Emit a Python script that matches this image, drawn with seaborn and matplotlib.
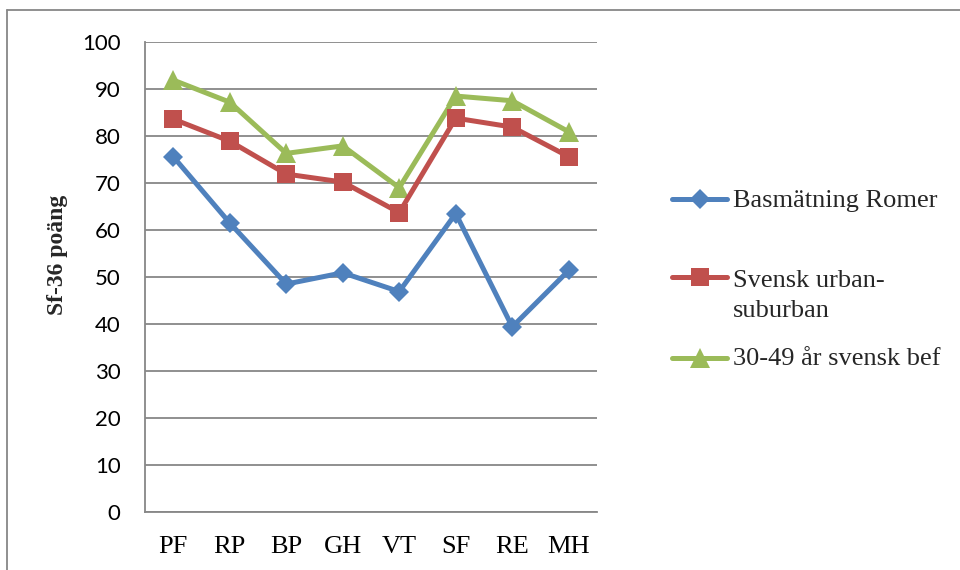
import matplotlib
matplotlib.use("Agg")
import matplotlib.pyplot as plt
from matplotlib.lines import Line2D
import seaborn as sns
import pandas as pd

# SF-36 domains and mean scores per group
domains = ["PF", "RP", "BP", "GH", "VT", "SF", "RE", "MH"]
basmatning_romer = [75.6, 61.5, 48.5, 50.9, 46.9, 63.5, 39.4, 51.4]
svensk_urban_suburban = [83.6, 78.9, 71.9, 70.2, 63.7, 83.8, 81.9, 75.6]
svensk_bef_30_49 = [91.9, 87.2, 76.3, 77.9, 69.0, 88.5, 87.5, 80.9]

series_names = ["Basmätning Romer", "Svensk urban-\nsuburban", "30-49 år svensk bef"]
series_values = [basmatning_romer, svensk_urban_suburban, svensk_bef_30_49]
colors = ["#4F81BD", "#C0504D", "#9BBB59"]
markers = ["D", "s", "^"]
msizes = [10.5, 13.5, 14.5]
zorders = [5, 4, 3]

y_ticks = [0, 10, 20, 30, 40, 50, 60, 70, 80, 90, 100]

df = pd.DataFrame(
    [(name, d, v) for name, vals in zip(series_names, series_values)
     for d, v in zip(domains, vals)],
    columns=["serie", "domän", "poäng"],
)

sns.set_style("white")
plt.rcParams["font.family"] = ["Liberation Serif", "DejaVu Serif"]

W, H = 960, 570
fig = plt.figure(figsize=(W / 100, H / 100), dpi=100)
ax = fig.add_axes([145 / W, 1 - 512 / H, (597 - 145) / W, (512 - 42) / H])

for name, col, mk, ms, zo in zip(series_names, colors, markers, msizes, zorders):
    sns.lineplot(
        data=df[df["serie"] == name], x="domän", y="poäng",
        color=col, marker=mk, markersize=ms, markeredgewidth=0,
        linewidth=3.6, ax=ax, zorder=zo, legend=False,
    )

grey = "#878787"
ax.set_xlim(-0.5, len(domains) - 0.5)
ax.set_ylim(0, 100)
ax.set_yticks(y_ticks)
ax.set_yticklabels([str(t) for t in y_ticks], fontfamily="Lato", fontsize=16)
ax.set_xticks(range(len(domains)))
ax.set_xticklabels(domains, fontsize=19)
ax.set_xticks([i - 0.5 for i in range(len(domains) + 1)], minor=True)
ax.tick_params(axis="x", which="major", length=0, pad=17)
ax.tick_params(axis="x", which="minor", length=5.5, width=1.2, color=grey, direction="out")
ax.tick_params(axis="y", which="major", length=5.5, width=1.2, color=grey, pad=12, direction="out")
ax.tick_params(axis="both", labelcolor="black")

ax.grid(axis="y", color=grey, linewidth=1.3)
ax.set_axisbelow(True)
for side in ["top", "right"]:
    ax.spines[side].set_visible(False)
for side in ["left", "bottom"]:
    ax.spines[side].set_color(grey)
    ax.spines[side].set_linewidth(1.3)

ax.set_xlabel("")
ax.set_ylabel("Sf-36 poäng", fontsize=17, fontweight="bold", va="center")
ax.yaxis.set_label_coords(-87 / 452, (512 - 255) / 470)

# legend drawn at the right of the plot area
def fy(py):
    return 1 - py / H

handle_rows = [199, 277, 358]
for col, mk, ms, py in zip(colors, markers, msizes, handle_rows):
    fig.add_artist(Line2D([672 / W, 727 / W], [fy(py), fy(py)], color=col,
                          linewidth=3.6, solid_capstyle="round"))
    fig.add_artist(Line2D([699.5 / W], [fy(py)], color=col, marker=mk,
                          markersize=ms * 0.95, markeredgewidth=0))

text_lines = [("Basmätning Romer", 207), ("Svensk urban-", 287),
              ("suburban", 317), ("30-49 år svensk bef", 365)]
for txt, base in text_lines:
    fig.text(733 / W, fy(base), txt, fontsize=19, va="baseline", ha="left")

# chart frame
fig.add_artist(Line2D([7 / W, 1.0], [fy(10), fy(10)], color=grey, linewidth=1.3))
fig.add_artist(Line2D([7 / W, 7 / W], [fy(10), 0.0], color=grey, linewidth=1.3))

fig.savefig("out.png", dpi=100)
